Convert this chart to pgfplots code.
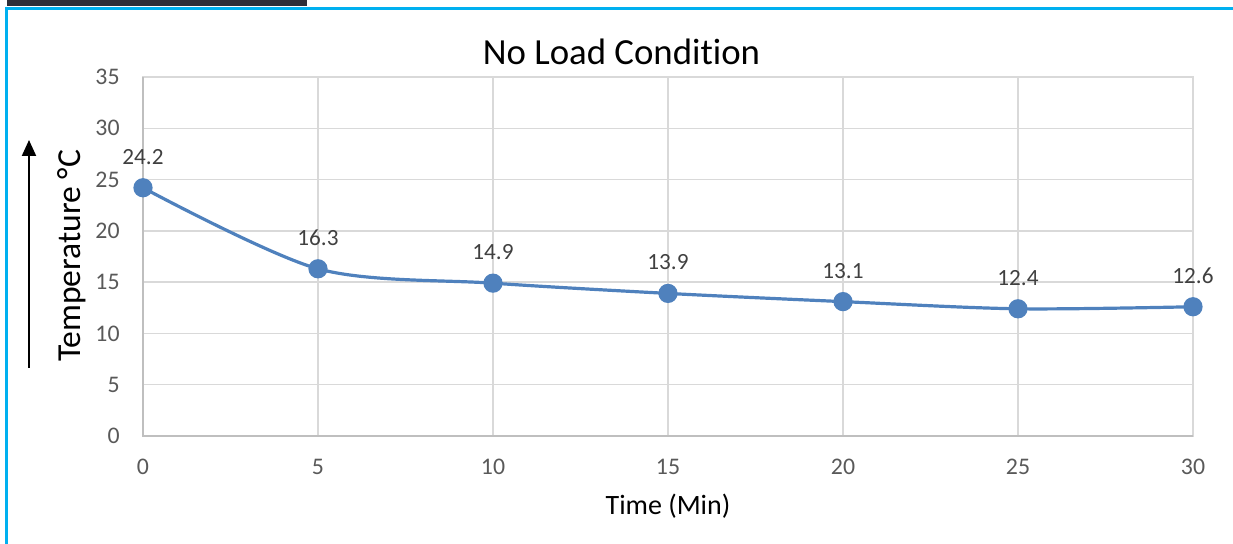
\documentclass[border=0pt]{standalone}
\usepackage{pgfplots}
\pgfplotsset{compat=1.18}
\usepackage{fontspec}
\setmainfont{Carlito}[Ligatures={NoCommon}]
\usetikzlibrary{arrows.meta}
\definecolor{lineblue}{HTML}{4F81BD}
\definecolor{gridgray}{HTML}{D9D9D9}
\definecolor{axisgray}{HTML}{BFBFBF}
\definecolor{ticktext}{HTML}{595959}
\definecolor{labeltext}{HTML}{404040}
\definecolor{frameblue}{HTML}{00B0F0}
\definecolor{darkbar}{HTML}{2E2E38}
\begin{document}
\begin{tikzpicture}[x=1pt,y=1pt]
\useasboundingbox (-71.5,-54) rectangle (545,218);
\fill[darkbar] (-68,215) rectangle (82,218);
\draw[frameblue, line width=1.5pt] (-68.25,-54) -- (-68.25,213.6) -- (545,213.6);
\begin{axis}[
  at={(0pt,0pt)}, anchor=south west,
  scale only axis, width=525pt, height=179.5pt,
  xmin=0, xmax=30, ymin=0, ymax=35,
  xtick={0,5,...,30}, ytick={0,5,...,35},
  grid=major, grid style={color=gridgray, line width=0.75pt},
  axis line style={color=gridgray, line width=0.75pt},
  major tick length=0pt,
  /pgf/number format/assume math mode=true,
  ticklabel style={font=\fontsize{11.9}{14}\selectfont, text=ticktext},
  xticklabel style={anchor=center, inner sep=0pt, yshift=-15.5pt},
  yticklabel style={anchor=east, inner sep=0pt, xshift=-11.5pt},
  clip=false,
  nodes near coords,
  every node near coord/.append style={anchor=center, yshift=15.5pt, font=\fontsize{11.6}{14}\selectfont, text=labeltext},
  nodes near coords={\pgfmathprintnumber[fixed, precision=1, assume math mode=true]{\pgfplotspointmeta}},
]
\draw[axisgray, line width=0.75pt] (rel axis cs:0,1) -- (rel axis cs:0,0) -- (rel axis cs:1,0);
\addplot[color=lineblue, line width=1.6pt, smooth, tension=0.5, mark=*, mark size=4pt, mark options={fill=lineblue, draw=lineblue}] coordinates {
(0,24.2) (5,16.3) (10,14.9) (15,13.9) (20,13.1) (25,12.4) (30,12.6)
};
\end{axis}
\node[font=\fontsize{18.4}{22}\selectfont] at (239.25,192) {No Load Condition};
\node[font=\fontsize{14}{17}\selectfont] at (262.5,-35) {Time (Min)};
\node[font=\fontsize{16.8}{20}\selectfont, rotate=90] at (-35.5,90) {Temperature °C};
\draw[line width=1pt, -{Triangle[width=7pt,length=8pt]}] (-57,34) -- (-57,148);
\end{tikzpicture}
\end{document}
